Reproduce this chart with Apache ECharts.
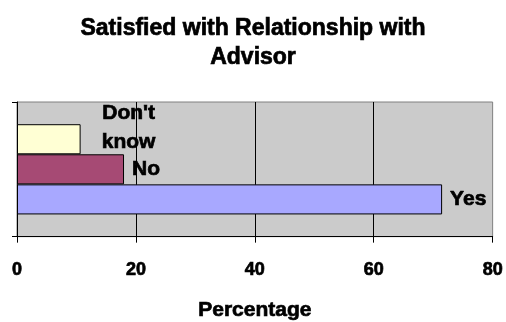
<!DOCTYPE html>
<html>
<head>
<meta charset="utf-8">
<script src="https://cdn.jsdelivr.net/npm/echarts@6/dist/echarts.min.js"></script>
<style>
  html, body { margin: 0; padding: 0; background: #fff; }
  #chart { width: 506px; height: 322px; }
</style>
</head>
<body>
<div id="chart"></div>
<script>
// Survey answers, top bar first
const answers = ["Don't\nknow", 'No', 'Yes'];
const percentages = [10.7, 18.0, 71.5];
const barColors = ['#FFFFD4', '#A64A74', '#A8A8FF'];
const xTicks = [0, 20, 40, 60, 80];

const FONT = '"Liberation Sans", Arial, sans-serif';
// heavy bold text: a thin outline in the fill colour thickens the strokes
const heavy = { fontFamily: FONT, fontWeight: 'bold', color: '#000', textBorderColor: '#000', textBorderWidth: 0.7 };

const series = answers.map((name, i) => ({
  name: name,
  type: 'bar',
  data: [percentages[i]],
  barGap: '0%',
  barCategoryGap: '33%',
  itemStyle: { color: barColors[i], borderColor: '#000', borderWidth: 1 },
  label: {
    show: true,
    position: 'right',
    distance: 8,
    formatter: name,
    ...heavy,
    fontSize: 21,
    lineHeight: 29,
    ...(name.indexOf('\n') >= 0 ? { align: 'center', offset: [40, -12] } : {})
  },
  z: 3
}));

const chart = echarts.init(document.getElementById('chart'), null, { renderer: 'canvas' });
chart.setOption({
  animation: false,
  title: {
    text: 'Satisfied with Relationship with\nAdvisor',
    left: 'center',
    top: 9,
    textStyle: { ...heavy, fontSize: 23, lineHeight: 29 }
  },
  grid: {
    left: 17, right: 11, top: 102, bottom: 81,
    show: true, backgroundColor: '#CBCBCB', borderColor: '#808080', borderWidth: 1
  },
  xAxis: {
    type: 'value',
    min: xTicks[0],
    max: xTicks[xTicks.length - 1],
    interval: xTicks[1] - xTicks[0],
    name: 'Percentage',
    nameLocation: 'middle',
    nameGap: 63,
    nameTextStyle: { ...heavy, fontSize: 21 },
    axisLine: { show: true, lineStyle: { color: '#000', width: 1 } },
    axisTick: { show: true, length: 6, lineStyle: { color: '#000' } },
    axisLabel: { margin: 24, ...heavy, fontSize: 18 },
    splitLine: { show: true, showMinLine: false, showMaxLine: false, lineStyle: { color: '#000', width: 1 } }
  },
  yAxis: {
    type: 'category',
    data: [''],
    axisLine: { show: true, lineStyle: { color: '#000', width: 1 } },
    axisTick: { show: true, length: 5, lineStyle: { color: '#000' } },
    axisLabel: { show: false },
    splitLine: { show: false }
  },
  series: series
});
</script>
</body>
</html>
